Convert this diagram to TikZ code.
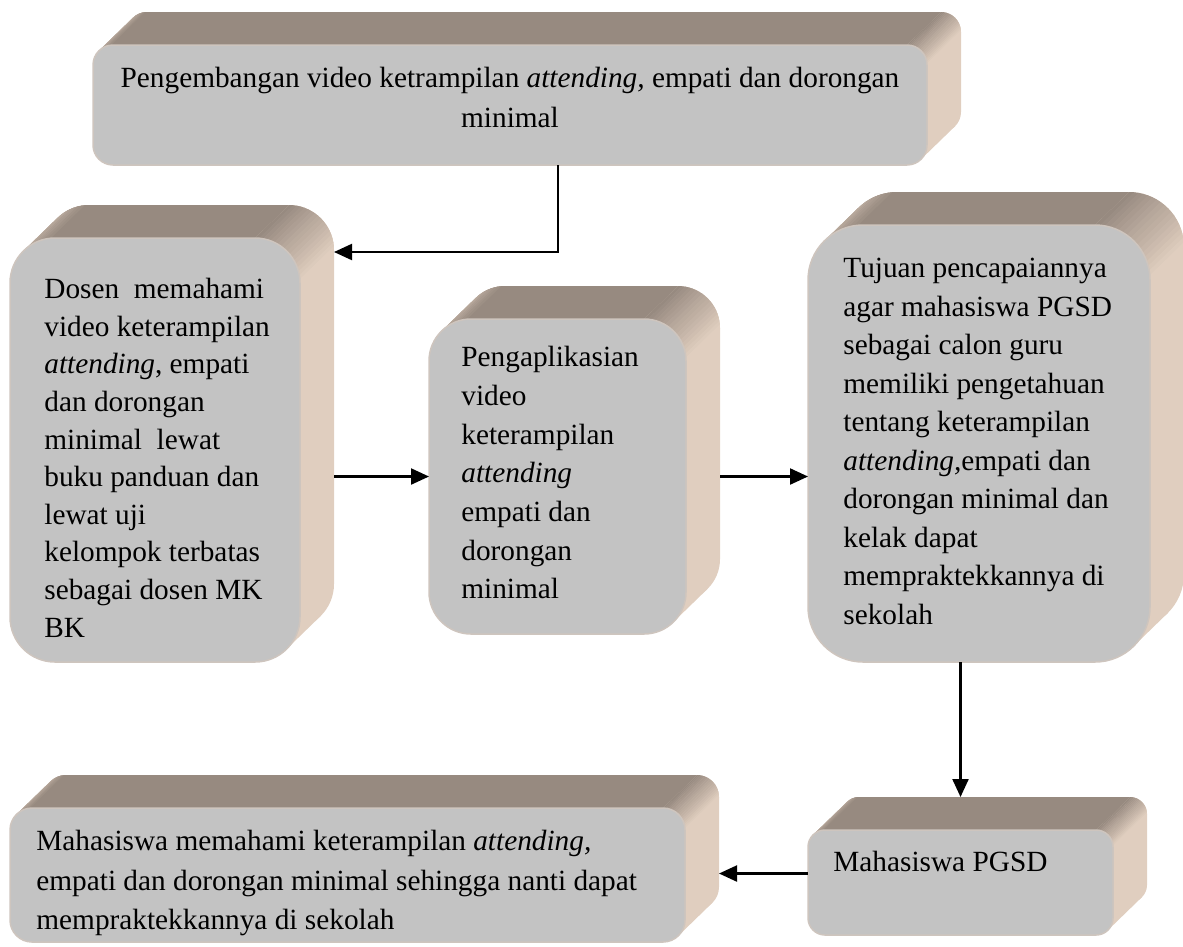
\documentclass[tikz,border=0pt]{standalone}
\usepackage{fontspec}
\setmainfont{Liberation Serif}
\usetikzlibrary{arrows.meta,calc}
\definecolor{topc}{RGB}{151,138,128}
\definecolor{sidec}{RGB}{224,206,191}
\definecolor{frontc}{RGB}{195,195,195}
\definecolor{edgec}{RGB}{206,197,190}
\def\DX{34}\def\DY{33}
\newcommand\slab[6]{%
 \pgfmathsetmacro\xa{#2}\pgfmathsetmacro\ya{#3}\pgfmathsetmacro\xb{#4}\pgfmathsetmacro\yb{#5}\pgfmathsetmacro\rr{#6}%
 \pgfmathsetmacro\cc{0.70711*\rr}%
 \fill[sidec, rounded corners=\rr*0.5bp] ({\xa+\DX},{\ya-\DY}) rectangle ({\xb+\DX},{\yb-\DY});
 \fill[sidec] ({\xa+\rr-\cc},{\ya+\rr-\cc}) -- ++(\DX,-\DY) -- ({\xb-\rr+\cc+\DX},{\yb-\rr+\cc-\DY}) -- ({\xb-\rr+\cc},{\yb-\rr+\cc}) -- cycle;
 \fill[topc] ({\xa+\rr-\cc},{\ya+\rr-\cc}) -- ++(\DX,-\DY) arc[start angle=225,end angle=270,radius=\rr] -- ({\xb-\rr+\DX},{\ya-\DY}) -- ({\xb-\rr},{\ya}) -- ({\xa+\rr},{\ya}) arc[start angle=270,end angle=225,radius=\rr] -- cycle;
 \foreach \k in {0,...,17}{%
   \pgfmathsetmacro\pa{270+5*\k}\pgfmathsetmacro\pb{275.6+5*\k}\pgfmathtruncatemacro\mix{100-100*\k/17}%
   \fill[topc!\mix!sidec] ({\xb-\rr+\rr*cos(\pa)},{\ya+\rr+\rr*sin(\pa)}) -- ++(\DX,-\DY) -- ({\xb-\rr+\rr*cos(\pb)+\DX},{\ya+\rr+\rr*sin(\pb)-\DY}) -- ({\xb-\rr+\rr*cos(\pb)},{\ya+\rr+\rr*sin(\pb)}) -- cycle;}
 \foreach \k in {0,...,8}{%
   \pgfmathsetmacro\pa{225+5*\k}\pgfmathsetmacro\pb{230.6+5*\k}\pgfmathtruncatemacro\mix{100-60*(1-\k/8)}%
   \fill[topc!\mix!sidec] ({\xa+\rr+\rr*cos(\pa)},{\ya+\rr+\rr*sin(\pa)}) -- ++(\DX,-\DY) -- ({\xa+\rr+\rr*cos(\pb)+\DX},{\ya+\rr+\rr*sin(\pb)-\DY}) -- ({\xa+\rr+\rr*cos(\pb)},{\ya+\rr+\rr*sin(\pb)}) -- cycle;}
 \node[front, minimum width={(\xb-\xa)*0.5bp}, minimum height={(\yb-\ya)*0.5bp}, rounded corners=\rr*0.5bp] (#1) at ({(\xa+\xb)/2},{(\ya+\yb)/2}) {};
 \coordinate (#1k) at ({\xb+\DX},{(\ya+\yb)/2-\DY});
 \coordinate (#1t) at ({(\xa+\xb)/2+\DX},{\ya-\DY});
}
\tikzset{
 front/.style={fill=frontc, draw=edgec, line width=0.75bp, inner sep=0pt, outer sep=0pt},
 txt/.style={inner sep=0pt, align=left, anchor=north west, font=\fontsize{14.65bp}{19.25bp}\selectfont},
 arr/.style={draw=black, line width=1.1bp, -{Triangle[length=9bp,width=8bp]}}
}
\begin{document}
\begin{tikzpicture}[x=0.5bp,y=-0.5bp]
\useasboundingbox (0,0) rectangle (1183,946);
\slab{b1}{93}{45}{927}{165}{20}
\slab{b2}{10}{238}{300}{662}{45}
\slab{b3}{429}{319}{686}{634}{42}
\slab{b4}{808}{225}{1150}{662}{55}
\slab{b5}{808}{830}{1113}{935}{17}
\slab{b6}{10}{808}{685}{942}{22}

\node[txt, align=center, anchor=north, font=\fontsize{14.65bp}{20bp}\selectfont] (t1) at (510,67)
 {Pengembangan video ketrampilan \textit{attending,} empati dan dorongan\\minimal};
\node[txt, font=\fontsize{14.65bp}{18.8bp}\selectfont] (t2) at (44,278)
 {Dosen\ \ memahami\\video keterampilan\\\textit{attending}, empati\\dan dorongan\\minimal\ \ lewat\\buku panduan dan\\lewat uji\\kelompok terbatas\\sebagai dosen MK\\BK};
\node[txt, font=\fontsize{14.65bp}{19.35bp}\selectfont] (t3) at (461,346)
 {Pengaplikasian\\video\\keterampilan\\\textit{attending}\\empati dan\\dorongan\\minimal};
\node[txt] (t4) at (843,258)
 {Tujuan pencapaiannya\\agar mahasiswa PGSD\\sebagai calon guru\\memiliki pengetahuan\\tentang keterampilan\\\textit{attending,}empati dan\\dorongan minimal dan\\kelak dapat\\mempraktekkannya di\\sekolah};
\node[txt] (t5) at (833,851) {Mahasiswa PGSD};
\node[txt, font=\fontsize{14.65bp}{19.75bp}\selectfont] (t6) at (36,830)
 {Mahasiswa memahami keterampilan \textit{attending,}\\empati dan dorongan minimal sehingga nanti dapat\\mempraktekkannya di sekolah};

\draw[arr] ($(b1.south)+(48,0)$) |- ($(b2.north -| b2k)+(0,14)$);
\draw[arr] (b2k |- b3.west) -- (b3.west);
\draw[arr] (b3k |- b3.east) -- (b4.west |- b3.east);
\draw[arr] (b5.north |- b4.south) -- (b5.north |- b5t);
\draw[arr] ($(b5.west)+(0,-9)$) coordinate (s5) -- (s5 -| b6k);
\end{tikzpicture}
\end{document}
